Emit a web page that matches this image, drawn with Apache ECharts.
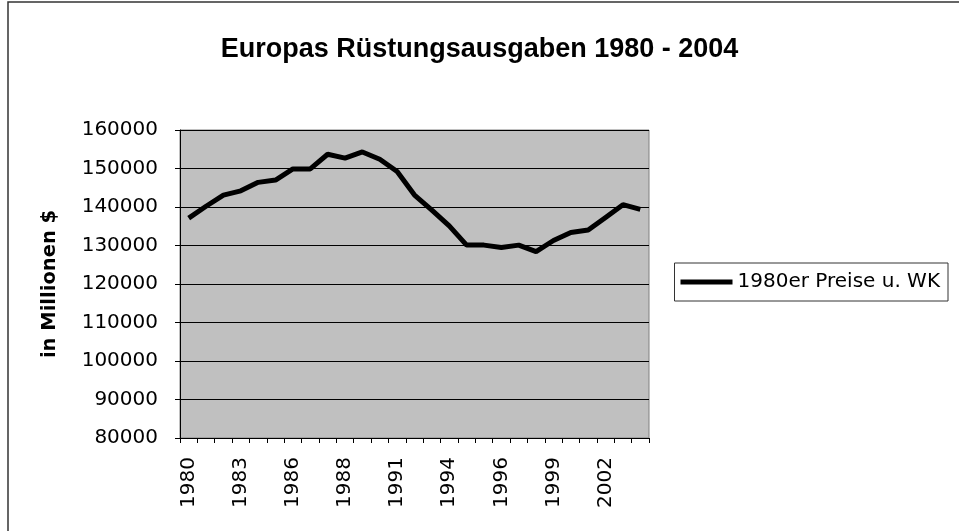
<!DOCTYPE html>
<html>
<head>
<meta charset="utf-8">
<script src="https://cdn.jsdelivr.net/npm/echarts@6/dist/echarts.min.js"></script>
<style>
  html, body { margin: 0; padding: 0; background: #fff; }
  #main { width: 959px; height: 531px; }
</style>
</head>
<body>
<div id="main"></div>
<script>
// Jahre (zwei Jahre kommen in den Quelldaten doppelt vor)
var years = ['1980', '1981', '1982', '1983', '1984', '1985', '1986', '1987', '1987',
  '1988', '1989', '1990', '1991', '1992', '1993', '1994', '1995', '1995',
  '1996', '1997', '1998', '1999', '2000', '2001', '2002', '2003', '2004'];
// 1980er Preise u. WK, in Millionen $
var ausgaben = [137100, 140200, 143100, 144200, 146400, 147000, 149900, 149900, 153700,
  152700, 154300, 152400, 149200, 143100, 139200, 135100, 130100, 130100,
  129500, 130100, 128400, 131300, 133400, 134000, 137300, 140600, 139400];

var chart = echarts.init(document.getElementById('main'));

var option = {
  backgroundColor: '#fff',
  animation: false,
  title: {
    text: 'Europas Rüstungsausgaben 1980 - 2004',
    left: 'center',
    top: 31,
    textStyle: {
      fontFamily: 'Liberation Sans',
      fontWeight: 'bold',
      fontSize: 27,
      color: '#000'
    }
  },
  graphic: [{
    type: 'rect',
    shape: { x: 8, y: 2, width: 960, height: 540 },
    style: { fill: 'none', stroke: '#333', lineWidth: 1.5 },
    silent: true
  }],
  legend: {
    right: 11,
    top: 263,
    orient: 'vertical',
    backgroundColor: '#fff',
    borderColor: '#333',
    borderWidth: 1,
    borderRadius: 0,
    padding: [9, 8, 9, 6],
    itemWidth: 52,
    itemHeight: 5,
    itemGap: 0,
    icon: 'rect',
    textStyle: { fontFamily: 'DejaVu Sans', fontSize: 20, color: '#000' },
    data: ['1980er Preise u. WK']
  },
  grid: {
    left: 180,
    right: 310,
    top: 130,
    bottom: 93,
    show: true,
    backgroundColor: '#c0c0c0',
    borderColor: '#808080',
    borderWidth: 1
  },
  xAxis: {
    type: 'category',
    data: years,
    boundaryGap: true,
    axisLine: { lineStyle: { color: '#000', width: 1 } },
    axisTick: { show: true, interval: 0, length: 5, lineStyle: { color: '#000' } },
    axisLabel: {
      interval: 2,
      rotate: 90,
      margin: 19,
      fontFamily: 'DejaVu Sans',
      fontSize: 20,
      color: '#000'
    },
    splitLine: { show: false }
  },
  yAxis: {
    type: 'value',
    min: 80000,
    max: 160000,
    interval: 10000,
    name: 'in Millionen $',
    nameLocation: 'middle',
    nameGap: 120,
    nameRotate: 90,
    nameTextStyle: {
      fontFamily: 'DejaVu Sans',
      fontWeight: 'bold',
      fontSize: 19.5,
      color: '#000'
    },
    axisLine: { show: true, lineStyle: { color: '#000', width: 1 } },
    axisTick: { show: true, length: 5, lineStyle: { color: '#000' } },
    axisLabel: {
      margin: 22,
      fontFamily: 'DejaVu Sans',
      fontSize: 20,
      color: '#000',
      formatter: function (v) { return String(v); }
    },
    splitLine: { show: true, lineStyle: { color: '#000', width: 1 } }
  },
  series: [{
    name: '1980er Preise u. WK',
    type: 'line',
    data: ausgaben,
    symbol: 'none',
    smooth: false,
    lineStyle: { color: '#000', width: 5 },
    itemStyle: { color: '#000' }
  }]
};

chart.setOption(option);
</script>
</body>
</html>
